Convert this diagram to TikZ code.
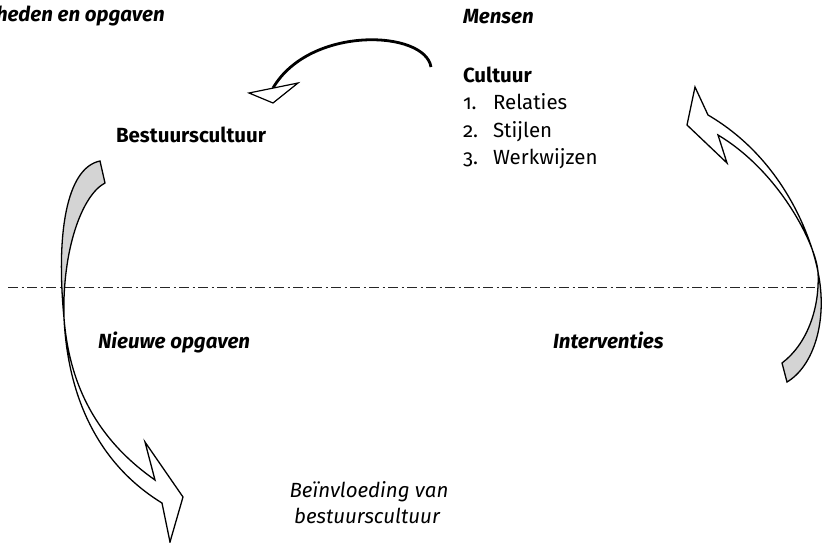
\documentclass[tikz,border=0pt]{standalone}
\usepackage{fontspec}
\setmainfont{Fira Sans}[Numbers=OldStyle]
\definecolor{ribbon}{HTML}{D4D4D4}
\tikzset{
  txt/.style={inner sep=0pt, outer sep=0pt, anchor=base west, font=\fontsize{20.5}{24}\selectfont},
  txtb/.style={txt, font=\fontsize{20.5}{24}\selectfont\bfseries},
  txtbi/.style={txt, font=\fontsize{20.5}{24}\selectfont\bfseries\itshape},
  txti/.style={txt, anchor=base, font=\fontsize{20.5}{24}\selectfont\itshape},
  ribbonline/.style={draw=black, line width=1.3pt, line join=miter},
  axisline/.style={draw=black!85, line width=1pt, dash pattern=on 10pt off 3.5pt on 2pt off 3.5pt},
}
\begin{document}
\begin{tikzpicture}[x=1pt,y=-1pt]
\useasboundingbox (0,0) rectangle (825,543);

% dash-dot separator
\coordinate (sepL) at (8,287);
\coordinate (sepR) at (815,287);
\draw[axisline] (sepL) -- (sepR);

% texts
\node[txtbi] (bevoegd) at (-4,22) {heden en opgaven};
\node[txtbi] (mensen) at (463,24) {Mensen};
\node[txtb] (cultuur) at (463,83) {Cultuur};
\node[txt] (n1) at (463,110) {1.};
\node[txt] (relaties) at (493,110) {Relaties};
\node[txt] (n2) at (463,137) {2.};
\node[txt] (stijlen) at (493,137) {Stijlen};
\node[txt] (n3) at (463,164) {3.};
\node[txt] (werkwijzen) at (493,164) {Werkwijzen};
\node[txtb] (bestuur) at (116,142) {Bestuurscultuur};
\node[txtbi] (nieuwe) at (98,348) {Nieuwe opgaven};
\node[txtbi] (interv) at (553,348) {Interventies};
\node[txti] (bein1) at (369,497) {Beïnvloeding van};
\node[txti] (bein2) at (367,523) {bestuurscultuur};

% top arrow (thin curve with open triangular head)
\coordinate (topS) at (431,67);
\coordinate (topE) at (273,88);
\draw[line width=2.8pt] (topS) .. controls (425,30) and (310,25) .. (topE);
\draw[line width=1.2pt, fill=white] (249,93) -- (298,83) -- (273,103) -- cycle;

% left ribbon arrow (downwards)
\coordinate (lx) at (64,318);
\filldraw[ribbonline, fill=ribbon] (100,161) -- (105,183) .. controls (82,195) and (62,250) .. (lx)
   .. controls (56,235) and (66,168) .. cycle;
\filldraw[ribbonline, fill=white] (lx) .. controls (68,400) and (100,465) .. (162,503)
   -- (170,542) -- (183,497) -- (145,442) -- (155,480)
   .. controls (105,445) and (70,395) .. cycle;

% right ribbon arrow (upwards)
\coordinate (rx) at (818,272);
\filldraw[ribbonline, fill=ribbon] (782,363) -- (787,382) .. controls (814,366) and (828,320) .. (rx)
   .. controls (820,310) and (806,345) .. cycle;
\filldraw[ribbonline, fill=white] (rx) .. controls (812,240) and (785,160) .. (708,115)
   -- (695,87) -- (687,125) -- (727,163) -- (718,135)
   .. controls (780,172) and (816,245) .. cycle;
\end{tikzpicture}
\end{document}
